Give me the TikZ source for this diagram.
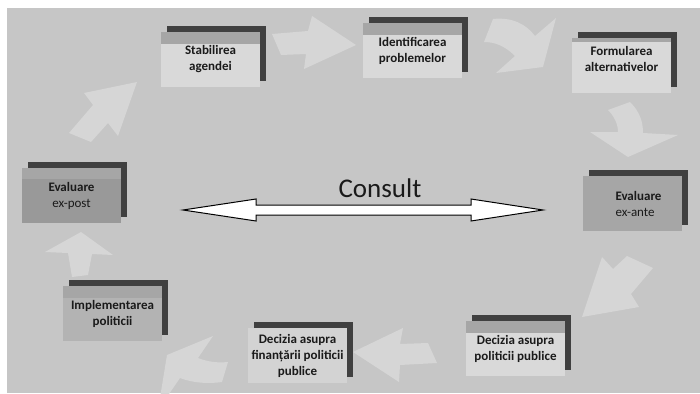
\documentclass[tikz,border=0pt]{standalone}
\usepackage{fontspec}
\setmainfont{Carlito}
\usetikzlibrary{positioning}

\definecolor{cBack}{HTML}{C6C6C6}
\definecolor{cArrow}{HTML}{D6D6D6}
\definecolor{cShadow}{HTML}{404040}
\definecolor{cBand}{HTML}{A6A6A6}
\definecolor{cLight}{HTML}{D9D9D9}
\definecolor{cPale}{HTML}{D3D3D3}
\definecolor{cMid}{HTML}{B3B3B3}
\definecolor{cDark}{HTML}{999999}
\definecolor{cText}{HTML}{1A1A1A}

\tikzset{
  flowarrow/.style={fill=cArrow},
  phasetext/.style={font=\fontsize{13}{16}\selectfont\bfseries, align=center, text=cText, inner sep=0pt},
}

% shadow, body, top band, then the text node
\newcommand{\phasebox}[8][]{%
  \fill[cShadow] (#3+6,#4-6) rectangle ++(99,55);
  \fill[#7] (#3,#4) rectangle ++(99,55);
  \fill[#5] (#3,#4) rectangle ++(99,#6);
  \node[phasetext,#1] (#2) at (#3+49.5,#4+27.5) {#8};
}

\begin{document}
\begin{tikzpicture}[x=1pt,y=-1pt]
\useasboundingbox (0,0) rectangle (700,393);
\fill[white] (0,0) rectangle (700,393);
\fill[cBack] (7,8) rectangle (700,393);

% cycle arrows
\begin{scope}
\clip (7,8) rectangle (700,393);
\fill[flowarrow] (137,82) -- (84,93) -- (93,105) -- (69,133) -- (91,142) -- (108,123) -- (118,136) -- cycle;
\fill[flowarrow] (356,45) -- (312,16) -- (308,31) -- (272,34) -- (281,55) -- (306,54) -- (304,69) -- cycle;
\fill[flowarrow] (493,19) .. controls (512,17) and (526,24) .. (535,36) -- (556,18) -- (543,67)
  -- (496,73) -- (515,56) .. controls (505,46) and (495,42) .. (484,42) -- cycle;
\fill[flowarrow] (608,110) -- (630,102) .. controls (640,112) and (643,122) .. (643,133) -- (678,135)
  -- (628,157) -- (590,132) -- (618,132) .. controls (618,124) and (614,116) .. (608,110) -- cycle;
\fill[flowarrow] (582,317) -- (602,257) -- (613,269) -- (627,256) -- (653,268) -- (631,294) -- (639,307) -- cycle;
\fill[flowarrow] (353,352) -- (403,328) -- (400,344) -- (428,343) -- (437,363) -- (400,365) -- (399,382) -- cycle;
\fill[flowarrow] (213,336) -- (198,358) .. controls (208,362) and (218,363) .. (228,362) -- (222,382)
  .. controls (208,384) and (193,383) .. (180,378) -- (158,410) -- (167,355) -- cycle;
\fill[flowarrow] (81,232) -- (113,255) -- (92,254) -- (88,275) -- (72,277) -- (68,253) -- (45,252) -- cycle;
\end{scope}

% phases
\phasebox{stab}{161}{32}{cBand}{12}{cLight}{Stabilirea\\agendei}
\phasebox{ident}{363}{23}{cBand}{12}{cLight}{Identificarea\\problemelor}
\phasebox[yshift=7pt]{form}{572}{38}{cBand}{4}{cLight}{Formularea\\alternativelor}
\phasebox[align=left,xshift=6pt]{exante}{583}{176}{cBand}{0}{cBand}{Evaluare\\{\mdseries ex-ante}}
\phasebox{decpol}{466}{321}{cBand}{12}{cLight}{Decizia asupra\\politicii publice}
\phasebox{decfin}{248}{328}{cPale}{0}{cPale}{Decizia asupra\\finanțării politicii\\publice}
\phasebox{impl}{63}{286}{cBand}{12}{cMid}{Implementarea\\politicii}
\phasebox{expost}{22}{168}{cBand}{11}{cDark}{Evaluare\\{\mdseries ex-post}}

% consult
\node[font=\fontsize{27}{32}\selectfont, text=cText] (consult) at (380,188) {Consult};
\draw[line width=1pt, fill=white] (183,210) -- (256,199) -- (256,205) -- (471,205) -- (471,199)
  -- (543,210) -- (471,221) -- (471,215) -- (256,215) -- (256,221) -- cycle;
\end{tikzpicture}
\end{document}
